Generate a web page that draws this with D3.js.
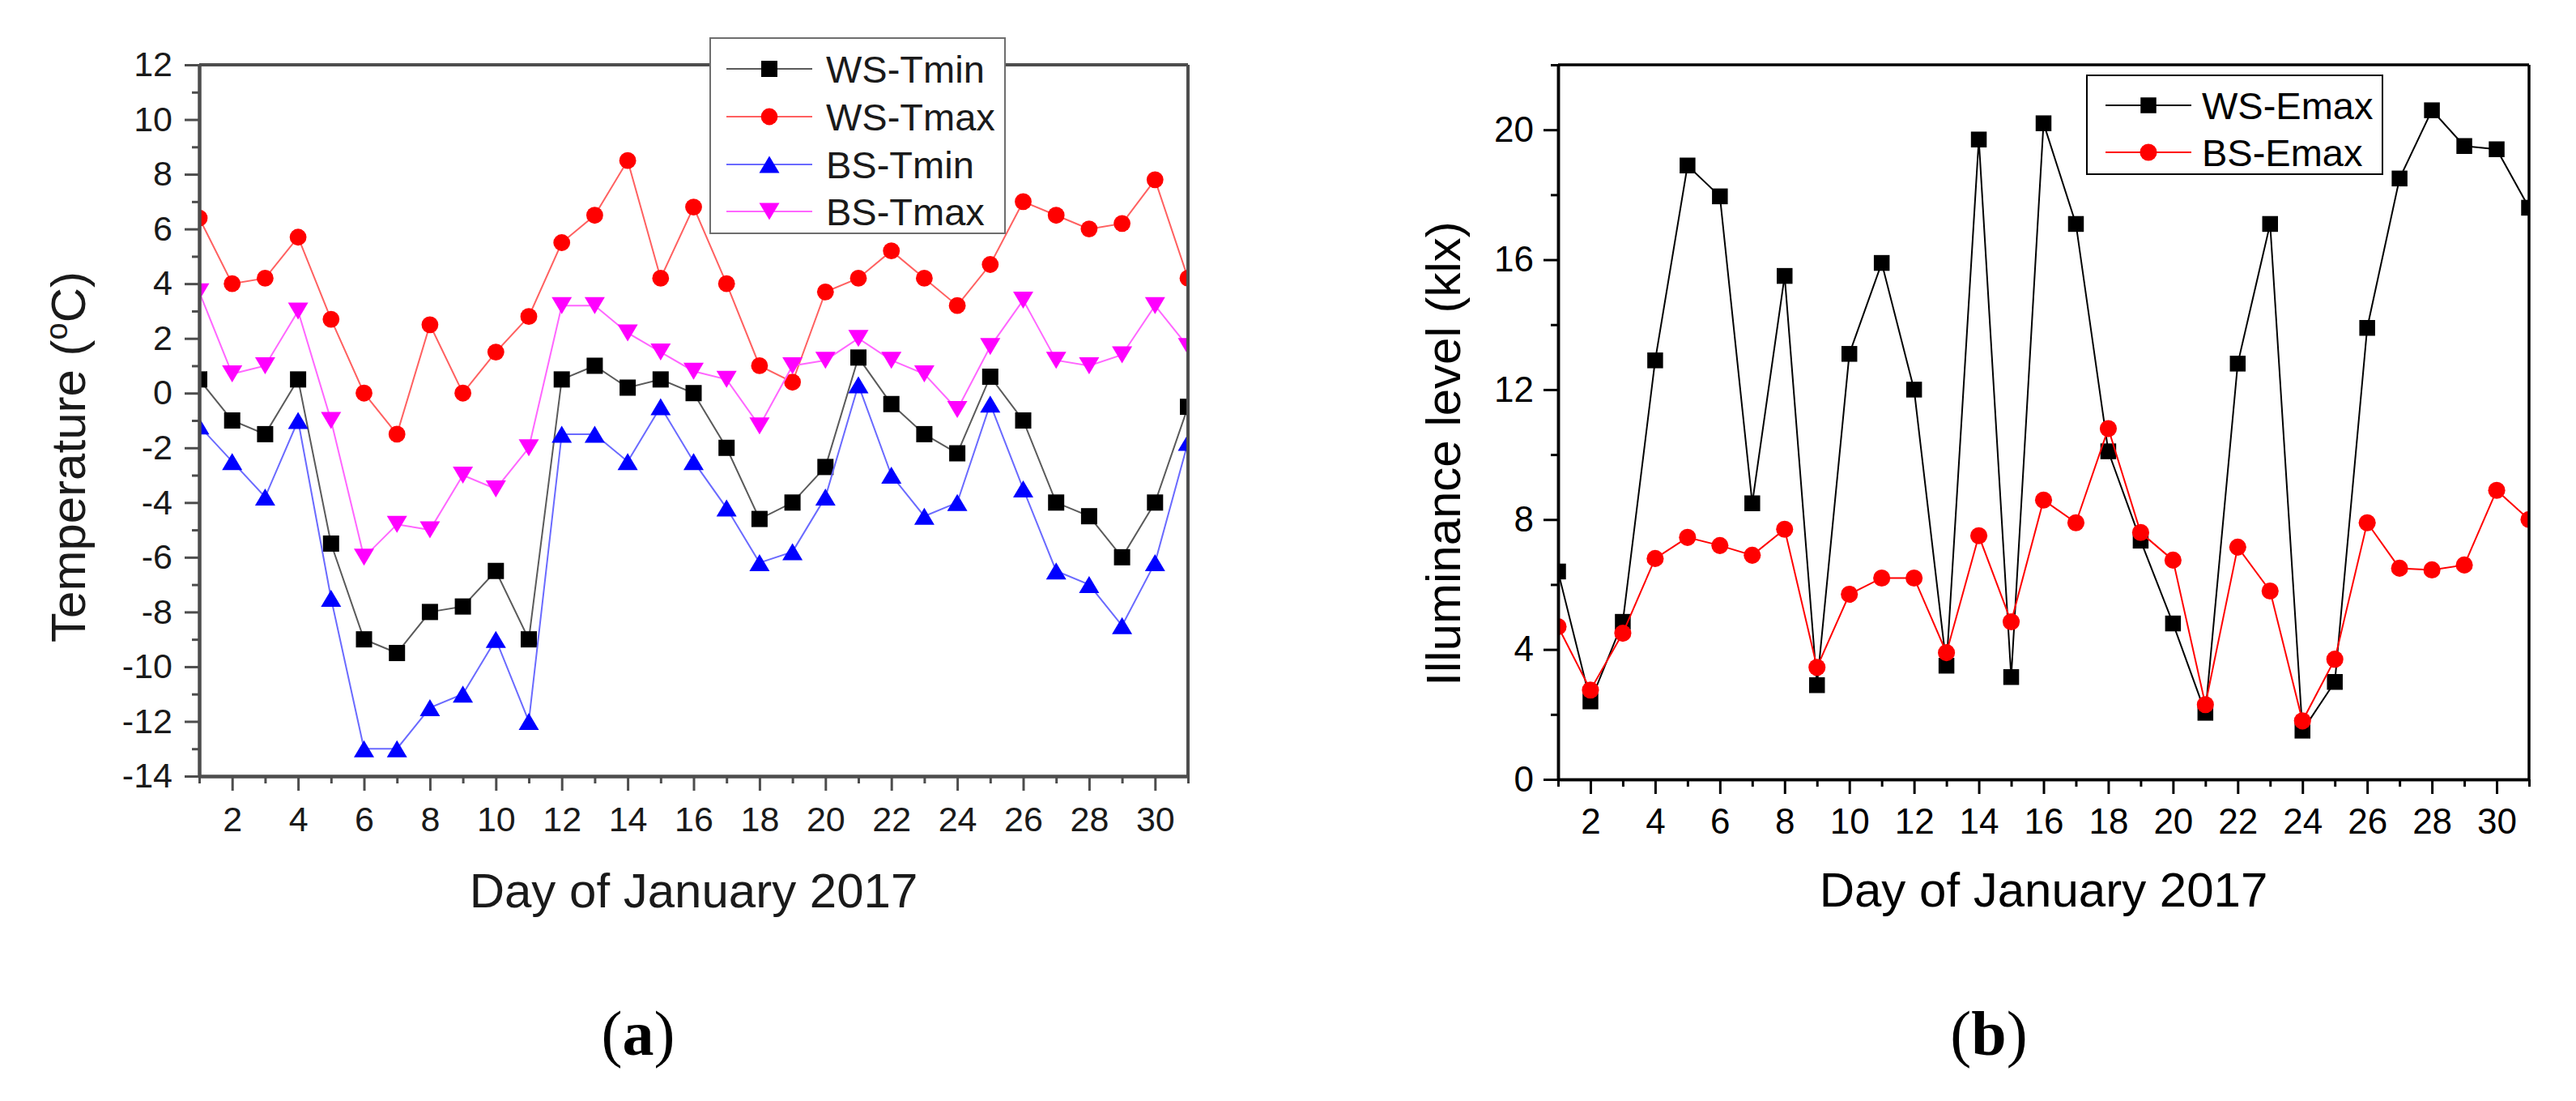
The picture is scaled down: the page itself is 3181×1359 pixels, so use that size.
<!DOCTYPE html>
<html>
<head>
<meta charset="utf-8">
<script src="https://cdn.jsdelivr.net/npm/d3@7"></script>
<style>
  html, body { margin: 0; padding: 0; background: #fff; }
  svg { display: block; }
</style>
</head>
<body>
<script>

// ------------------------ DATA ------------------------
// day of January 2017
var days = [1,2,3,4,5,6,7,8,9,10,11,12,13,14,15,16,17,18,19,20,21,22,23,24,25,26,27,28,29,30,31];
var dayMajor = [2,4,6,8,10,12,14,16,18,20,22,24,26,28,30];
var dayMinor = [1,3,5,7,9,11,13,15,17,19,21,23,25,27,29,31];

// (a) temperature, degC
var wsTmin = [0.5,-1.0,-1.5,0.5,-5.5,-9.0,-9.5,-8.0,-7.8,-6.5,-9.0,0.5,1.0,0.2,0.5,0.0,-2.0,-4.6,-4.0,-2.7,1.3,-0.4,-1.5,-2.2,0.6,-1.0,-4.0,-4.5,-6.0,-4.0,-0.5];
var wsTmax = [6.4,4.0,4.2,5.7,2.7,0.0,-1.5,2.5,0.0,1.5,2.8,5.5,6.5,8.5,4.2,6.8,4.0,1.0,0.4,3.7,4.2,5.2,4.2,3.2,4.7,7.0,6.5,6.0,6.2,7.8,4.2];
var bsTmin = [-1.2,-2.5,-3.8,-1.0,-7.5,-13.0,-13.0,-11.5,-11.0,-9.0,-12.0,-1.5,-1.5,-2.5,-0.5,-2.5,-4.2,-6.2,-5.8,-3.8,0.3,-3.0,-4.5,-4.0,-0.4,-3.5,-6.5,-7.0,-8.5,-6.2,-1.8];
var bsTmax = [3.7,0.7,1.0,3.0,-1.0,-6.0,-4.8,-5.0,-3.0,-3.5,-2.0,3.2,3.2,2.2,1.5,0.8,0.5,-1.2,1.0,1.2,2.0,1.2,0.7,-0.6,1.7,3.4,1.2,1.0,1.4,3.2,1.7];
var tempMajor = [-14,-12,-10,-8,-6,-4,-2,0,2,4,6,8,10,12];
var tempMinor = [-13,-11,-9,-7,-5,-3,-1,1,3,5,7,9,11];

// (b) illuminance, klx
var wsEmax = [6.4,2.4,4.85,12.9,18.9,17.95,8.5,15.5,2.9,13.1,15.9,12.0,3.5,19.7,3.15,20.2,17.1,10.1,7.35,4.8,2.05,12.8,17.1,1.5,3.0,13.9,18.5,20.6,19.5,19.4,17.6];
var bsEmax = [4.7,2.75,4.5,6.8,7.45,7.2,6.9,7.7,3.45,5.7,6.2,6.2,3.9,7.5,4.85,8.6,7.9,10.8,7.6,6.75,2.3,7.15,5.8,1.8,3.7,7.9,6.5,6.45,6.6,8.9,8.0];
var illumMajor = [0,4,8,12,16,20];
var illumMinor = [2,6,10,14,18,22];

// ------------------------ SYMBOLS ------------------------
// triangles centred on their bounding box (like Origin does)
var triUp = { draw: function(ctx, size) {
	var w = Math.sqrt(size), h = w * 0.84;
	ctx.moveTo(0, -h / 2); ctx.lineTo(w / 2, h / 2); ctx.lineTo(-w / 2, h / 2); ctx.closePath();
}};
var triDown = { draw: function(ctx, size) {
	var w = Math.sqrt(size), h = w * 0.84;
	ctx.moveTo(0, h / 2); ctx.lineTo(w / 2, -h / 2); ctx.lineTo(-w / 2, -h / 2); ctx.closePath();
}};

var FONT = "'Liberation Sans', Arial, sans-serif";

var svg = d3.select('body').append('svg')
	.attr('width', 3181)
	.attr('height', 1359);

// ------------------------ ONE PANEL ------------------------
function drawPanel(p) {
	var g = svg.append('g');
	var x = d3.scaleLinear().domain([1, 31]).range([p.left, p.right]);
	var y = d3.scaleLinear().domain(p.yDomain).range([p.bottom, p.top]);

	g.append('clipPath').attr('id', p.id + '-clip')
		.append('rect')
		.attr('x', p.left).attr('y', p.top)
		.attr('width', p.right - p.left).attr('height', p.bottom - p.top);

	var plot = g.append('g').attr('clip-path', 'url(#' + p.id + '-clip)');

	p.series.forEach(function(s) {
		var line = d3.line()
			.x(function(d, i) { return x(days[i]); })
			.y(function(d) { return y(d); });
		plot.append('path')
			.datum(s.values)
			.attr('d', line)
			.attr('fill', 'none')
			.attr('stroke', s.lineColor)
			.attr('stroke-width', p.lineWidth);
		plot.selectAll(null)
			.data(s.values)
			.enter()
			.append('path')
			.attr('transform', function(d, i) { return 'translate(' + x(days[i]) + ',' + y(d) + ')'; })
			.attr('d', d3.symbol().type(s.symbol).size(s.size))
			.attr('fill', s.color);
	});

	// frame top / right
	g.append('line')
		.attr('x1', p.left).attr('x2', p.right)
		.attr('y1', p.top).attr('y2', p.top)
		.attr('stroke', p.axisColor).attr('stroke-width', p.axisWidth);
	g.append('line')
		.attr('x1', p.right).attr('x2', p.right)
		.attr('y1', p.top).attr('y2', p.bottom)
		.attr('stroke', p.axisColor).attr('stroke-width', p.axisWidth);

	// x axis, major + minor
	var xg = g.append('g').attr('transform', 'translate(0,' + p.bottom + ')');
	xg.append('g').call(d3.axisBottom(x).tickValues(dayMinor).tickSize(9).tickSizeOuter(0).tickFormat(''));
	xg.append('g').call(d3.axisBottom(x).tickValues(dayMajor).tickSize(18).tickSizeOuter(0).tickPadding(p.xPad));

	// y axis, major + minor
	var yg = g.append('g').attr('transform', 'translate(' + p.left + ',0)');
	yg.append('g').call(d3.axisLeft(y).tickValues(p.yMinor).tickSize(9).tickSizeOuter(0).tickFormat(''));
	var yMajorG = yg.append('g').call(d3.axisLeft(y).tickValues(p.yMajor).tickSize(18).tickSizeOuter(0).tickPadding(p.yPad));

	g.selectAll('.domain').attr('stroke', p.axisColor).attr('stroke-width', p.axisWidth);
	g.selectAll('.tick line').attr('stroke', p.axisColor).attr('stroke-width', p.tickWidth);
	g.selectAll('.tick text')
		.attr('font-family', FONT)
		.attr('font-size', p.tickFont)
		.attr('fill', p.textColor);
	// d3 draws minus as U+2212; keep the hyphen used in the figure
	yMajorG.selectAll('.tick text').text(function(d) { return String(d); });

	// axis titles
	g.append('text')
		.attr('x', (p.left + p.right) / 2)
		.attr('y', p.xTitleY)
		.attr('text-anchor', 'middle')
		.attr('font-family', FONT)
		.attr('font-size', 60)
		.attr('fill', p.textColor)
		.text('Day of January 2017');

	var yt = g.append('text')
		.attr('transform', 'translate(' + p.yTitleX + ',' + p.yTitleY + ') rotate(-90)')
		.attr('text-anchor', 'middle')
		.attr('font-family', FONT)
		.attr('font-size', 60)
		.attr('fill', p.textColor);
	p.yTitle(yt);

	// legend
	var lg = g.append('g');
	lg.append('rect')
		.attr('x', p.legend.x).attr('y', p.legend.y)
		.attr('width', p.legend.w).attr('height', p.legend.h)
		.attr('fill', '#fff')
		.attr('stroke', p.legend.stroke)
		.attr('stroke-width', 2);
	p.series.forEach(function(s, i) {
		var ry = p.legend.rows[i];
		lg.append('line')
			.attr('x1', p.legend.lineX[0]).attr('x2', p.legend.lineX[1])
			.attr('y1', ry).attr('y2', ry)
			.attr('stroke', s.lineColor).attr('stroke-width', p.lineWidth);
		lg.append('path')
			.attr('transform', 'translate(' + (p.legend.lineX[0] + p.legend.lineX[1]) / 2 + ',' + ry + ')')
			.attr('d', d3.symbol().type(s.symbol).size(s.size))
			.attr('fill', s.color);
		lg.append('text')
			.attr('x', p.legend.textX).attr('y', ry)
			.attr('dy', '0.36em')
			.attr('font-family', FONT)
			.attr('font-size', 47)
			.attr('fill', p.textColor)
			.text(s.name);
	});

	// panel label
	var pl = svg.append('text')
		.attr('x', p.labelX).attr('y', 1302)
		.attr('text-anchor', 'middle')
		.attr('font-family', "'Liberation Serif', 'Times New Roman', serif")
		.attr('font-size', 78)
		.attr('fill', '#000');
	pl.append('tspan').text('(');
	pl.append('tspan').attr('font-weight', 'bold').text(p.label);
	pl.append('tspan').text(')');
}

// ------------------------ (a) TEMPERATURE ------------------------
drawPanel({
	id: 'a',
	left: 246, right: 1467, top: 80, bottom: 958,
	yDomain: [-14, 12], yMajor: tempMajor, yMinor: tempMinor,
	axisColor: '#4d4d4d', axisWidth: 4, tickWidth: 3, lineWidth: 2,
	textColor: '#1a1a1a', tickFont: 43, xPad: 19, yPad: 15,
	xTitleY: 1120, yTitleX: 105, yTitleY: 564,
	yTitle: function(t) {
		t.append('tspan').text('Temperature (');
		t.append('tspan').attr('font-size', 38).attr('dy', -22).text('o');
		t.append('tspan').attr('dy', 22).text('C)');
	},
	series: [
		{ name: 'WS-Tmin', values: wsTmin, color: '#000', lineColor: '#5a5a5a', symbol: d3.symbolSquare, size: 400 },
		{ name: 'WS-Tmax', values: wsTmax, color: '#ff0000', lineColor: '#ff6060', symbol: d3.symbolCircle, size: 340 },
		{ name: 'BS-Tmin', values: bsTmin, color: '#0000ff', lineColor: '#6a6aff', symbol: triUp, size: 625 },
		{ name: 'BS-Tmax', values: bsTmax, color: '#ff00ff', lineColor: '#ff66ff', symbol: triDown, size: 625 }
	],
	legend: { x: 877, y: 47, w: 364, h: 241, stroke: '#6e6e6e',
		rows: [85, 144, 203, 261], lineX: [897, 1003], textX: 1020 },
	label: 'a', labelX: 788
});

// ------------------------ (b) ILLUMINANCE ------------------------
drawPanel({
	id: 'b',
	left: 1924, right: 3123, top: 80, bottom: 962,
	yDomain: [0, 22], yMajor: illumMajor, yMinor: illumMinor,
	axisColor: '#000', axisWidth: 3.5, tickWidth: 3, lineWidth: 2,
	textColor: '#000', tickFont: 44, xPad: 18, yPad: 12,
	xTitleY: 1119, yTitleX: 1803, yTitleY: 560,
	yTitle: function(t) { t.text('Illuminance level (klx)'); },
	series: [
		{ name: 'WS-Emax', values: wsEmax, color: '#000', lineColor: '#000', symbol: d3.symbolSquare, size: 380 },
		{ name: 'BS-Emax', values: bsEmax, color: '#ff0000', lineColor: '#ff0000', symbol: d3.symbolCircle, size: 350 }
	],
	legend: { x: 2577, y: 93, w: 365, h: 122, stroke: '#000',
		rows: [130, 188], lineX: [2600, 2706], textX: 2719 },
	label: 'b', labelX: 2456
});

</script>
</body>
</html>
